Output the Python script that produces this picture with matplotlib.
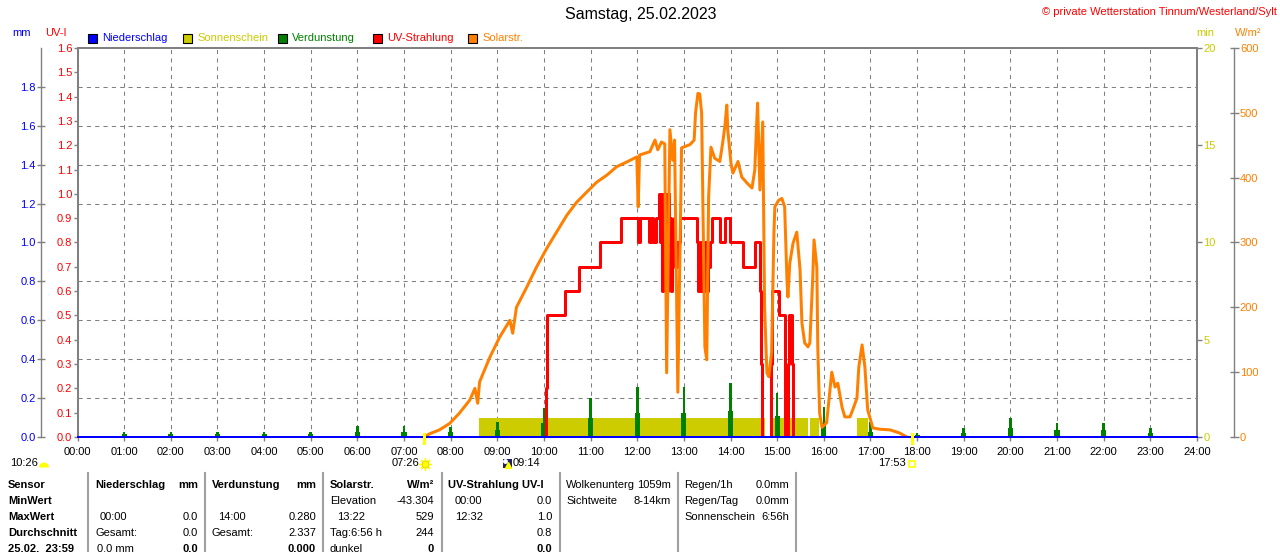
import numpy as np
import matplotlib
matplotlib.use('Agg')
import matplotlib.pyplot as plt
from matplotlib.patches import Rectangle, Wedge

plt.rcParams['font.family'] = ['Liberation Sans', 'DejaVu Sans']

# ---------------- data ----------------
hour_ticks = list(range(25))
hour_labels = [f"{h:02d}:00" for h in hour_ticks]

# Verdunstung (mm), hourly bars
evap_hours = list(range(1, 24))
evap_mm = [0.027, 0.027, 0.027, 0.027, 0.027, 0.055, 0.057, 0.053, 0.075, 0.15,
           0.20, 0.257, 0.257, 0.28, 0.226, 0.155, 0.077, 0.02, 0.046, 0.10,
           0.072, 0.072, 0.046]
evap_low = [0.013, 0.013, 0.013, 0.013, 0.013, 0.027, 0.027, 0.027, 0.036, 0.07,
            0.098, 0.123, 0.123, 0.134, 0.108, 0.07, 0.026, 0.01, 0.022, 0.048,
            0.036, 0.036, 0.022]

# Niederschlag (mm)
rain_hours = [0, 24]
rain_mm = [0.0, 0.0]

# Sonnenschein (min)
sun_start = [8.60, 14.86, 15.70, 16.71]
sun_end = [14.73, 15.66, 15.89, 16.94]
sun_min = [1.0, 1.0, 1.0, 1.0]

# UV-Strahlung (UV-I)
uv_t = [10.03, 10.05, 10.07, 10.45, 10.75, 11.20, 11.65, 12.01, 12.05, 12.25,
        12.29, 12.33, 12.41, 12.47, 12.49, 12.51, 12.53, 12.55, 12.57, 12.59,
        12.61, 12.63, 12.65, 12.67, 12.69, 12.71, 12.73, 12.75, 12.78, 12.82,
        12.86, 12.91, 13.28, 13.31, 13.34, 13.37, 13.40, 13.43, 13.46, 13.49,
        13.52, 13.55, 13.60, 13.77, 13.88, 13.98, 14.26, 14.52, 14.63, 14.66,
        14.68, 14.87, 14.89, 15.04, 15.17, 15.23, 15.26, 15.31, 15.34]
uv_v = [0.0, 0.2, 0.5, 0.6, 0.7, 0.8, 0.9, 0.8, 0.9, 0.8,
        0.9, 0.8, 0.9, 1.0, 0.8, 1.0, 0.6, 0.9, 1.0, 0.7,
        1.0, 0.6, 0.9, 1.0, 0.7, 0.9, 0.6, 0.8, 0.9, 0.7,
        0.8, 0.9, 0.8, 0.6, 0.8, 0.6, 0.7, 0.6, 0.8, 0.6,
        0.7, 0.8, 0.9, 0.8, 0.9, 0.8, 0.7, 0.8, 0.6, 0.3,
        0.0, 0.3, 0.6, 0.5, 0.0, 0.3, 0.5, 0.3, 0.0]

# Solarstrahlung (W/m2)
sol_t = [7.43, 7.55, 7.76, 7.98, 8.19, 8.41, 8.52, 8.58, 8.62, 8.84,
         9.05, 9.27, 9.33, 9.41, 9.63, 9.84, 10.06, 10.27, 10.49, 10.70,
         10.92, 11.13, 11.35, 11.56, 11.77, 11.99, 12.02, 12.05, 12.27, 12.38,
         12.44, 12.52, 12.59, 12.63, 12.70, 12.76, 12.80, 12.87, 12.95, 13.13,
         13.22, 13.25, 13.30, 13.34, 13.38, 13.41, 13.45, 13.49, 13.53, 13.58,
         13.66, 13.77, 13.83, 13.88, 13.92, 13.94, 14.01, 14.05, 14.16, 14.24,
         14.35, 14.46, 14.52, 14.56, 14.58, 14.63, 14.69, 14.71, 14.73, 14.78,
         14.82, 14.88, 14.93, 14.95, 15.03, 15.10, 15.16, 15.21, 15.23, 15.27,
         15.34, 15.42, 15.49, 15.53, 15.59, 15.66, 15.70, 15.76, 15.79, 15.85,
         15.87, 15.91, 15.96, 16.06, 16.17, 16.24, 16.30, 16.39, 16.45, 16.56,
         16.62, 16.71, 16.75, 16.82, 16.88, 16.94, 17.05, 17.20, 17.42, 17.63,
         17.78]
sol_v = [0, 5, 11, 21, 37, 57, 75, 52, 85, 123,
         154, 180, 160, 200, 231, 262, 291, 316, 342, 362,
         378, 393, 404, 417, 424, 432, 355, 435, 440, 458,
         443, 455, 452, 99, 474, 427, 458, 69, 446, 451,
         458, 500, 530, 529, 500, 345, 139, 119, 370, 447,
         430, 425, 453, 480, 512, 474, 422, 407, 425, 401,
         392, 384, 412, 484, 515, 381, 486, 345, 200, 99,
         93, 130, 315, 355, 365, 368, 355, 242, 216, 268,
         299, 316, 258, 176, 145, 139, 145, 242, 304, 262,
         139, 37, 15, 22, 100, 77, 83, 46, 31, 31,
         42, 60, 108, 142, 108, 42, 14, 12, 11, 6,
         0]

sunrise = 7 + 26 / 60
sunset = 17 + 53 / 60

mm_ticks = [0.0, 0.2, 0.4, 0.6, 0.8, 1.0, 1.2, 1.4, 1.6, 1.8]
uv_ticks = [i / 10 for i in range(17)]
min_ticks = [0, 5, 10, 15, 20]
sol_ticks = [0, 100, 200, 300, 400, 500, 600]

# ---------------- style ----------------
BLUE = '#0000ff'
YEL = '#cccc00'
GREEN = '#008000'
RED = '#ff0000'
ORANGE = '#ff8000'
GRAY = '#808080'
FS = 8
PX = 0.72  # points per pixel at dpi 100

W, H = 1280, 552
fig = plt.figure(figsize=(12.8, 5.52), dpi=100)
fig.patch.set_facecolor('white')

ax = fig.add_axes([77.5 / W, 1 - 437 / H, (1197 - 77.5) / W, (437 - 48) / H])
ax_mm = ax.twinx()
ax_uv = ax.twinx()
ax_sol = ax.twinx()

# base axes: time + sunshine minutes (right side)
ax.set_xlim(0, 24)
ax.set_ylim(0, 20)
ax.set_xticks(hour_ticks)
ax.set_xticklabels(hour_labels)
ax.yaxis.tick_right()
ax.set_yticks(min_ticks)
ax.set_yticks(np.arange(0, 21, 2), minor=True)
ax.tick_params(axis='y', which='major', length=5 * PX, width=1, color=GRAY,
               labelcolor=YEL, labelsize=FS, pad=1)
ax.tick_params(axis='y', which='minor', length=0)
ax.tick_params(axis='x', length=4 * PX, width=1, color=GRAY, labelsize=FS, pad=4.5)
ax.grid(axis='y', which='minor', color=GRAY, linestyle=(0, (4, 4)), linewidth=0.75)
ax.grid(axis='x', which='major', color=GRAY, linestyle=(0, (4, 4)), linewidth=0.75)
ax.set_axisbelow(True)
for s in ax.spines.values():
    s.set_color(GRAY)
    s.set_linewidth(2 * PX)
ax.bar(sun_start, sun_min, width=np.subtract(sun_end, sun_start), align='edge',
       color=YEL, linewidth=0, zorder=2)

# mm axis (left, outward)
ax_mm.set_ylim(0, 2.0)
ax_mm.yaxis.tick_left()
ax_mm.yaxis.set_label_position('left')
ax_mm.set_yticks(mm_ticks)
ax_mm.set_yticklabels([f"{v:.1f}" for v in mm_ticks])
for k, s in ax_mm.spines.items():
    s.set_visible(k == 'left')
ax_mm.spines['left'].set_position(('outward', 37 * PX))
ax_mm.spines['left'].set_color(GRAY)
ax_mm.spines['left'].set_linewidth(1)
ax_mm.tick_params(axis='y', direction='inout', length=8 * PX, width=1, color=GRAY,
                  labelcolor=BLUE, labelsize=FS, pad=0.5)
ax_mm.bar(evap_hours, evap_low, width=0.11, color=GREEN, linewidth=0)
ax_mm.bar(evap_hours, evap_mm, width=0.055, color=GREEN, linewidth=0)

# UV axis (left, at plot edge)
ax_uv.set_ylim(0, 1.6)
ax_uv.yaxis.tick_left()
ax_uv.yaxis.set_label_position('left')
ax_uv.set_yticks(uv_ticks)
ax_uv.set_yticklabels([f"{v:.1f}" for v in uv_ticks])
for s in ax_uv.spines.values():
    s.set_visible(False)
ax_uv.tick_params(axis='y', length=4 * PX, width=1, color=GRAY, labelcolor=RED,
                  labelsize=FS, pad=1)
ax_uv.plot(uv_t, uv_v, drawstyle='steps-post', color=RED, linewidth=3 * PX)

# Solar axis (right, outward)
ax_sol.set_ylim(0, 600)
ax_sol.yaxis.tick_right()
ax_sol.set_yticks(sol_ticks)
for k, s in ax_sol.spines.items():
    s.set_visible(k == 'right')
ax_sol.spines['right'].set_position(('outward', 37 * PX))
ax_sol.spines['right'].set_color(GRAY)
ax_sol.spines['right'].set_linewidth(1)
ax_sol.tick_params(axis='y', direction='inout', length=9 * PX, width=1, color=GRAY,
                   labelcolor=ORANGE, labelsize=FS, pad=1)
ax_sol.plot(sol_t, sol_v, color=ORANGE, linewidth=3 * PX)
# Niederschlag line (mm scale) on top
ax_sol.plot(rain_hours, rain_mm, transform=ax_mm.transData, color=BLUE,
            linewidth=2 * PX, clip_on=False)
# sunrise / sunset markers
xt = ax_sol.get_xaxis_transform()
for t in (sunrise, sunset):
    ax_sol.plot([t, t], [-0.016, 0.008], transform=xt, color='#ffff00',
                linewidth=3 * PX, clip_on=False)

ax.yaxis.tick_right()

# ---------------- overlay (pixel coordinates) ----------------
ov = fig.add_axes([0, 0, 1, 1], zorder=10)
ov.set_xlim(0, W)
ov.set_ylim(H, 0)
ov.axis('off')
ov.patch.set_alpha(0)

ov.text(641, 15, 'Samstag, 25.02.2023', ha='center', va='center', fontsize=11.5)
ov.text(1277, 12, '\u00a9 private Wetterstation Tinnum/Westerland/Sylt', ha='right',
        va='center', fontsize=FS, color=RED)
ov.text(22, 33, 'mm', ha='center', va='center', fontsize=FS, color=BLUE)
ov.text(56, 33, 'UV-I', ha='center', va='center', fontsize=FS, color=RED)
ov.text(1205, 33, 'min', ha='center', va='center', fontsize=FS, color=YEL)
ov.text(1248, 33, 'W/m\u00b2', ha='center', va='center', fontsize=FS, color=ORANGE)

legend_items = [('Niederschlag', BLUE, 88), ('Sonnenschein', YEL, 183),
                ('Verdunstung', GREEN, 278), ('UV-Strahlung', RED, 373),
                ('Solarstr.', ORANGE, 468)]
for name, col, x0 in legend_items:
    ov.add_patch(Rectangle((x0, 33.5), 9, 9, facecolor=col, edgecolor='black', linewidth=0.8))
    ov.text(x0 + 14, 38, name, ha='left', va='center', fontsize=FS, color=col)

# sun information row
ov.text(10, 463.5, '10:26', ha='left', va='center', fontsize=FS)
ov.add_patch(Wedge((44, 467.5), 5, 180, 360, facecolor='#ffff00', edgecolor='none'))
ov.text(419, 463.5, '07:26', ha='right', va='center', fontsize=FS)
ov.plot([425], [464], marker=(8, 2, 0), markersize=9, color='#ffff00', mew=1)
ov.plot([425], [464], marker='o', markersize=5, color='#ffff00', mec='#e0c000', mew=0.5)
ov.add_patch(Rectangle((503, 459), 9, 9, facecolor='#202060', edgecolor='none'))
ov.plot([508], [465], marker='^', markersize=4, color='#ffff00')
ov.plot([505], [461], marker='o', markersize=2.5, color='white')
ov.text(512.5, 463.5, '09:14', ha='left', va='center', fontsize=FS)
ov.text(906, 463.5, '17:53', ha='right', va='center', fontsize=FS)
ov.add_patch(Rectangle((909, 461), 6, 6, facecolor='none', edgecolor='#ffff00', linewidth=1.2))

# table separators
for xs in (88, 205, 323, 442, 560, 678, 796):
    ov.plot([xs, xs], [473, 552], color='#a0a0a0', linewidth=1.5, clip_on=False)

rows_y = [485, 501, 517, 533, 549]


def t(x, y, s, ha='left', bold=False):
    ov.text(x, y, s, ha=ha, va='center', fontsize=FS,
            fontweight='bold' if bold else 'normal', color='black')


t(8, rows_y[0], 'Sensor', bold=True)
t(8, rows_y[1], 'MinWert', bold=True)
t(8, rows_y[2], 'MaxWert', bold=True)
t(8, rows_y[3], 'Durchschnitt', bold=True)
t(8, rows_y[4], '25.02.  23:59', bold=True)

t(95, rows_y[0], 'Niederschlag', bold=True)
t(198, rows_y[0], 'mm', ha='right', bold=True)
t(100, rows_y[2], '00:00')
t(198, rows_y[2], '0.0', ha='right')
t(95, rows_y[3], 'Gesamt:')
t(198, rows_y[3], '0.0', ha='right')
t(97, rows_y[4], '0.0 mm')
t(198, rows_y[4], '0.0', ha='right', bold=True)

t(212, rows_y[0], 'Verdunstung', bold=True)
t(316, rows_y[0], 'mm', ha='right', bold=True)
t(218, rows_y[2], '14:00')
t(316, rows_y[2], '0.280', ha='right')
t(212, rows_y[3], 'Gesamt:')
t(316, rows_y[3], '2.337', ha='right')
t(316, rows_y[4], '0.000', ha='right', bold=True)

t(330, rows_y[0], 'Solarstr.', bold=True)
t(434, rows_y[0], 'W/m\u00b2', ha='right', bold=True)
t(330, rows_y[1], 'Elevation')
t(434, rows_y[1], '-43.304', ha='right')
t(337, rows_y[2], '13:22')
t(434, rows_y[2], '529', ha='right')
t(330, rows_y[3], 'Tag:6:56 h')
t(434, rows_y[3], '244', ha='right')
t(330, rows_y[4], 'dunkel')
t(434, rows_y[4], '0', ha='right', bold=True)

t(448, rows_y[0], 'UV-Strahlung UV-I', bold=True)
t(455, rows_y[1], '00:00')
t(552, rows_y[1], '0.0', ha='right')
t(455, rows_y[2], '12:32')
t(552, rows_y[2], '1.0', ha='right')
t(552, rows_y[3], '0.8', ha='right')
t(552, rows_y[4], '0.0', ha='right', bold=True)

t(566, rows_y[0], 'Wolkenunterg')
t(671, rows_y[0], '1059m', ha='right')
t(566, rows_y[1], 'Sichtweite')
t(671, rows_y[1], '8-14km', ha='right')

t(684, rows_y[0], 'Regen/1h')
t(789, rows_y[0], '0.0mm', ha='right')
t(684, rows_y[1], 'Regen/Tag')
t(789, rows_y[1], '0.0mm', ha='right')
t(684, rows_y[2], 'Sonnenschein')
t(789, rows_y[2], '6:56h', ha='right')

fig.savefig('out.png', dpi=100)
